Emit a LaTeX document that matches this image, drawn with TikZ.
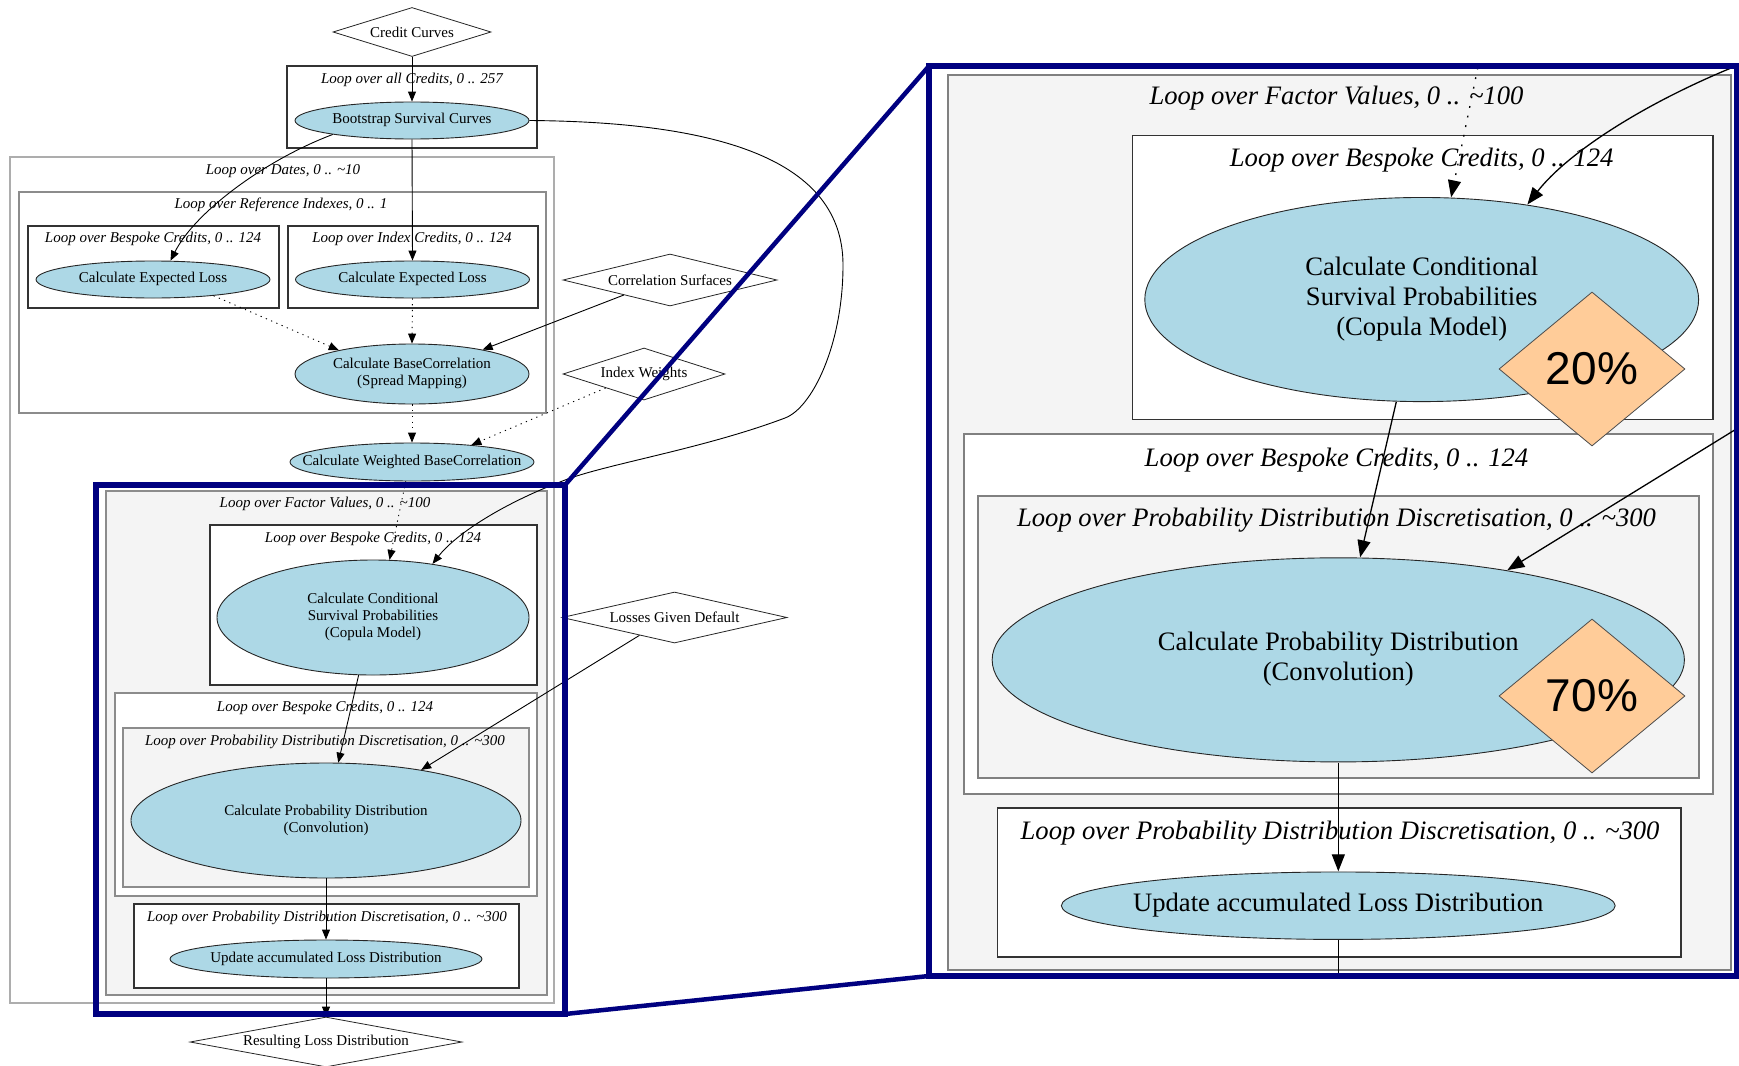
\documentclass[tikz,border=0pt]{standalone}
\usepackage{fontspec}
\setmainfont{Liberation Serif}
\newfontfamily\pctfont{Liberation Sans}
\usetikzlibrary{shapes.geometric,arrows.meta}

\definecolor{navyframe}{RGB}{0,0,128}
\definecolor{procfill}{RGB}{173,216,230}
\definecolor{shadegrey}{RGB}{244,244,244}
\definecolor{pctfill}{RGB}{255,204,153}

% centred multi-line text that does not widen the ellipse
\newcommand{\ztxt}[1]{\makebox[0pt]{\begin{tabular}{@{}c@{}}#1\end{tabular}}}
% text of elements lying outside the factor loop (left out of the magnified view)
\newcommand{\outside}[1]{#1}

\tikzset{
  proc/.style={ellipse, draw=black!85, line width=0.9pt, fill=procfill, inner sep=0pt,
    font=\fontsize{15}{17}\selectfont},
  data/.style={diamond, draw=black!85, line width=0.8pt, fill=white, inner sep=0pt,
    font=\fontsize{15}{17}\selectfont},
  looplabel/.style={inner sep=0pt, font=\fontsize{15}{17}\selectfont\itshape},
  loopdark/.style={draw=black!80, line width=1.1pt},
  loopgrey/.style={draw=black!45, line width=1.4pt},
  looplight/.style={draw=black!32, line width=1.4pt},
  flow/.style={draw=black, line width=0.9pt, -{Triangle[length=10pt,width=8pt]}},
  flowdot/.style={flow, dash pattern=on 1.2pt off 4.5pt},
  zoomframe/.style={draw=navyframe, line width=5.5pt},
  zoomlink/.style={draw=navyframe, line width=4.5pt},
  pct/.style={diamond, draw=black!70, line width=0.8pt, fill=pctfill, inner sep=0pt,
    minimum width=186pt, minimum height=154pt, font=\pctfont\fontsize{46}{50}\selectfont},
}

% the complete flow chart, drawn once at normal size and once magnified
\newcommand{\flowchart}{%
  % loop frames
  \draw[loopdark] (287,66) rectangle (537,148);
  \draw[looplight] (10,157) rectangle (554,1003);
  \draw[loopgrey] (19,192) rectangle (546,413);
  \draw[loopdark] (28,226) rectangle (279,308);
  \draw[loopdark] (288,226) rectangle (538,308);
  \draw[loopgrey, fill=shadegrey] (106,491) rectangle (547,995);
  \draw[loopdark, fill=white] (210,525) rectangle (537,685);
  \draw[loopgrey, fill=white] (115,693) rectangle (537,896);
  \draw[loopgrey, fill=shadegrey] (123,728) rectangle (529,887);
  \draw[loopdark, fill=white] (134,904) rectangle (519,988);
  % loop labels
  \node[looplabel] (lblcredits) at (412,80) {\outside{Loop over all Credits, 0 .. 257}};
  \node[looplabel] (lbldates) at (283,171) {\outside{Loop over Dates, 0 .. \textasciitilde10}};
  \node[looplabel] (lblrefidx) at (281,205) {\outside{Loop over Reference Indexes, 0 .. 1}};
  \node[looplabel] (lblbespL) at (153,239) {\outside{Loop over Bespoke Credits, 0 .. 124}};
  \node[looplabel] (lblindex) at (412,239) {\outside{Loop over Index Credits, 0 .. 124}};
  \node[looplabel] (lblfactor) at (325,504) {Loop over Factor Values, 0 .. \textasciitilde100};
  \node[looplabel] (lblbespA) at (373,539) {Loop over Bespoke Credits, 0 .. 124};
  \node[looplabel] (lblbespB) at (325,708) {Loop over Bespoke Credits, 0 .. 124};
  \node[looplabel] (lbldiscA) at (325,742) {Loop over Probability Distribution Discretisation, 0 .. \textasciitilde300};
  \node[looplabel] (lbldiscB) at (327,918) {Loop over Probability Distribution Discretisation, 0 .. \textasciitilde300};
  % inputs and outputs
  \node[data, shape aspect=3.2, minimum width=158pt, minimum height=49pt] (cc) at (412,32) {\outside{Credit Curves}};
  \node[data, shape aspect=4.1, minimum width=214pt, minimum height=52pt] (cs) at (670,280) {\outside{Correlation Surfaces}};
  \node[data, shape aspect=3.1, minimum width=162pt, minimum height=52pt] (iw) at (644,374) {\outside{Index Weights}};
  \node[data, shape aspect=4.4, minimum width=225pt, minimum height=51pt] (lgd) at (674.5,617.5) {\outside{Losses Given Default}};
  \node[data, shape aspect=5.4, minimum width=272pt, minimum height=50pt] (result) at (326,1042) {\outside{Resulting Loss Distribution}};
  % processing steps
  \node[proc, minimum width=234pt, minimum height=37pt] (boot) at (412,120.5) {\outside{\ztxt{Bootstrap Survival Curves}}};
  \node[proc, minimum width=234pt, minimum height=37pt] (elL) at (153,279.5) {\outside{\ztxt{Calculate Expected Loss}}};
  \node[proc, minimum width=234pt, minimum height=37pt] (elR) at (412.5,279.5) {\outside{\ztxt{Calculate Expected Loss}}};
  \node[proc, minimum width=234pt, minimum height=60pt] (basecorr) at (412,374) {\outside{\ztxt{Calculate BaseCorrelation\\(Spread Mapping)}}};
  \node[proc, minimum width=244pt, minimum height=38pt] (weighted) at (412,462) {\outside{\ztxt{Calculate Weighted BaseCorrelation}}};
  \node[proc, minimum width=312pt, minimum height=115pt] (cond) at (373,617.5) {\ztxt{Calculate Conditional\\Survival Probabilities\\(Copula Model)}};
  \node[proc, minimum width=390pt, minimum height=115pt] (conv) at (326,820.5) {\ztxt{Calculate Probability Distribution\\(Convolution)}};
  \node[proc, minimum width=312pt, minimum height=38pt] (update) at (326,959) {\ztxt{Update accumulated Loss Distribution}};
  % connectors
  \draw[flow] (cc.south) -- (boot.north);
  \draw[flow] (boot.190.5) .. controls (265,160) and (195,212) .. (elL.47);
  \draw[flow] (boot.south) -- (elR.north);
  \draw[flow] (boot.east) .. controls (720,122) and (843,160) .. (843,265)
     .. controls (843,345) and (812,408) .. (785,418)
     .. controls (700,450) and (600,465) .. (560,482)
     .. controls (500,505) and (455,535) .. (cond.42);
  \draw[flowdot] (elL.-15.5) -- (basecorr.162);
  \draw[flowdot] (elR.south) -- (basecorr.north);
  \draw[flow] (cs.198) -- (basecorr.19);
  \draw[flowdot] (basecorr.south) -- (weighted.north);
  \draw[flowdot] (iw.200) -- (weighted.16);
  \draw[flowdot] (weighted.-108) -- (cond.74);
  \draw[flow] (cond.-104) -- (conv.78);
  \draw[flow] (lgd.207) -- (conv.28);
  \draw[flow] (conv.south) -- (update.north);
  \draw[flow] (update.south) -- (result.north);
}

\begin{document}
\begin{tikzpicture}[x=1pt,y=-1pt]
  \useasboundingbox (0,0) rectangle (1739,1065);
  \fill[white] (0,0) rectangle (1739,1065);

  \flowchart

  % magnified view of the factor loop
  \begin{scope}
    \clip (929,66) rectangle (1737,976);
    \begin{scope}[shift={(946,75)}, scale=1.775, shift={(-105,-491)}, transform shape,
        name prefix=z-,
        flow/.style={draw=black, line width=1.3pt, -{Triangle[length=17pt,width=13pt]}},
        flowdot/.style={flow, dash pattern=on 1.8pt off 8pt},
        loopdark/.style={draw=black!80, line width=1.6pt},
        loopgrey/.style={draw=black!50, line width=2pt},
        looplight/.style={draw=black!35, line width=2pt}]
      \renewcommand{\outside}[1]{}%
      \flowchart
    \end{scope}
    \node[pct] (pct20) at (1592,369) {20\%};
    \node[pct] (pct70) at (1592,696) {70\%};
  \end{scope}

  % zoom frames and their links
  \coordinate (sNW) at (96,485);
  \coordinate (sNE) at (565,485);
  \coordinate (sSE) at (565,1014);
  \coordinate (bNW) at (929,66);
  \coordinate (bSW) at (929,976);
  \coordinate (bSE) at (1737,976);
  \draw[zoomframe] (sNW) rectangle (sSE);
  \draw[zoomframe] (bNW) rectangle (bSE);
  \draw[zoomlink] (sNE) -- (bNW);
  \draw[zoomlink] (sSE) -- (bSW);
\end{tikzpicture}
\end{document}
